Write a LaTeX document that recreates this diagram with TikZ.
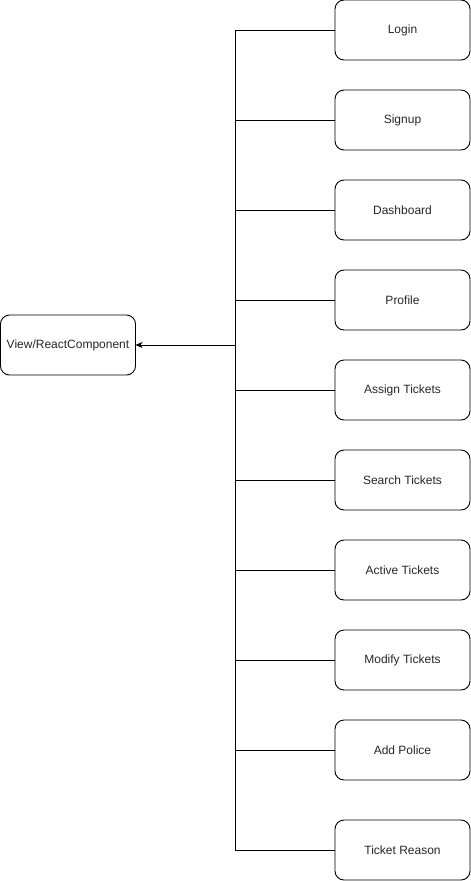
\documentclass[tikz,border=0pt]{standalone}
\usepackage{fontspec}
\setmainfont{Liberation Sans}
\usetikzlibrary{arrows.meta,positioning}

\begin{document}
\begin{tikzpicture}[
    node distance=30pt,
    box/.style={draw, rectangle, rounded corners=9pt, line width=0.9pt, outer sep=0pt, minimum width=135pt, minimum height=60pt, align=center, font=\fontsize{12pt}{14pt}\selectfont, text=black!85},
    line/.style={line width=0.9pt},
    arrow/.style={-{Stealth[length=7pt,width=6pt,inset=2pt]}, line width=0.9pt}
]
    \useasboundingbox (0pt,0pt) rectangle (471pt,-881pt);

    \node[box] (login) at (402.5pt,-30pt) {Login};
    \node[box, below=of login] (signup) {Signup};
    \node[box, below=of signup] (dashboard) {Dashboard};
    \node[box, below=of dashboard] (profile) {Profile};
    \node[box, below=of profile] (assign) {Assign Tickets};
    \node[box, below=of assign] (search) {Search Tickets};
    \node[box, below=of search] (active) {Active Tickets};
    \node[box, below=of active] (modify) {Modify Tickets};
    \node[box, below=of modify] (police) {Add Police};
    \node[box, below=40pt of police] (reason) {Ticket Reason};

    \node[box] (view) at (68pt,-345pt) {View/ReactComponent};

    \coordinate (trunk) at (235pt,-345pt);

    \draw[line] (login.west -| trunk) -- (reason.west -| trunk);
    \foreach \n in {login,signup,dashboard,profile,assign,search,active,modify,police,reason}
        \draw[line] (\n.west) -- (\n.west -| trunk);

    \draw[arrow] (trunk) -- (view.east);
\end{tikzpicture}
\end{document}
